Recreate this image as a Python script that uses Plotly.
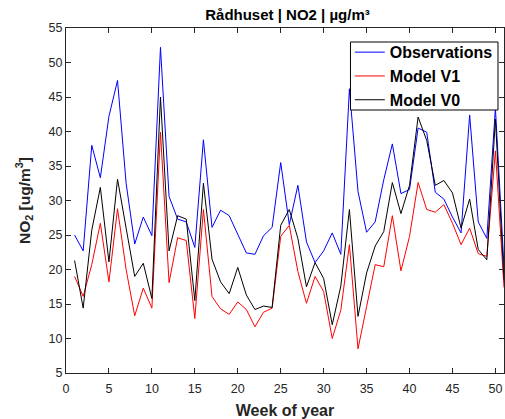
import plotly.graph_objects as go

weeks = list(range(1, 52))

observations = [25.0, 22.7, 38.0, 33.3, 42.2, 47.4, 32.5, 23.7, 27.6, 24.9,
                52.2, 30.6, 27.3, 26.9, 23.2, 38.8, 26.1, 28.6, 27.8, 25.1,
                22.4, 22.2, 24.9, 26.1, 35.5, 26.5, 32.2, 24.0, 21.0, 22.7,
                25.3, 22.2, 46.2, 31.3, 25.4, 26.9, 33.0, 38.2, 31.0, 31.6,
                40.5, 39.9, 31.2, 30.2, 27.6, 25.3, 42.4, 26.9, 24.5, 43.4,
                20.4]

model_v1 = [19.0, 16.1, 20.7, 26.7, 18.2, 28.8, 20.0, 13.3, 17.3, 14.4,
            39.9, 18.1, 24.6, 24.2, 12.9, 28.7, 16.1, 14.3, 13.5, 15.3,
            14.2, 11.7, 13.8, 14.4, 24.8, 26.4, 19.7, 15.1, 19.0, 16.8,
            10.0, 14.1, 23.6, 8.5, 14.6, 20.7, 20.4, 27.8, 19.8, 24.8,
            32.6, 28.7, 28.3, 29.4, 26.7, 23.6, 26.0, 22.3, 21.9, 37.2,
            17.4]

model_v0 = [21.3, 14.4, 25.7, 31.9, 21.1, 33.1, 26.0, 19.0, 20.9, 15.8,
            45.0, 22.7, 27.8, 27.3, 15.5, 32.5, 21.5, 18.2, 16.5, 20.3,
            16.3, 14.2, 14.7, 14.5, 26.4, 28.7, 24.5, 17.5, 21.0, 18.7,
            12.0, 17.6, 28.7, 13.2, 19.5, 23.4, 25.5, 32.6, 28.1, 32.2,
            42.1, 38.7, 32.2, 32.9, 31.1, 26.0, 30.2, 22.9, 21.4, 41.8,
            18.5]

x_ticks = [0, 5, 10, 15, 20, 25, 30, 35, 40, 45, 50]
y_ticks = [5, 10, 15, 20, 25, 30, 35, 40, 45, 50, 55]

FONT = "Liberation Sans, Arial, sans-serif"
AX = "#262626"

fig = go.Figure()
fig.add_trace(go.Scatter(x=weeks, y=observations, mode="lines", name="<b>Observations</b>",
                         line=dict(color="#0000FF", width=1)))
fig.add_trace(go.Scatter(x=weeks, y=model_v1, mode="lines", name="<b>Model V1</b>",
                         line=dict(color="#FF0000", width=1)))
fig.add_trace(go.Scatter(x=weeks, y=model_v0, mode="lines", name="<b>Model V0</b>",
                         line=dict(color="#000000", width=1)))

# legend frame drawn as a box (tighter than plotly's own legend padding)
fig.add_shape(type="rect", xref="paper", yref="paper",
              x0=0.6495, x1=0.9863, y0=0.7623, y1=0.9594,
              line=dict(color="#000000", width=1), fillcolor="white", layer="above")

fig.update_layout(
    width=505, height=419,
    margin=dict(l=66, r=1, t=28, b=46, autoexpand=False),
    paper_bgcolor="white", plot_bgcolor="white",
    font=dict(family=FONT, color=AX, size=12.5),
    title=dict(text="<b>Rådhuset | NO2 | µg/m³</b>", xref="container", x=0.5693,
               xanchor="center", yref="container", y=0.9642, yanchor="middle",
               font=dict(size=15, color="#000000")),
    showlegend=True,
    legend=dict(x=0.648, y=0.979, xanchor="left", yanchor="top",
                bgcolor="rgba(0,0,0,0)", borderwidth=0,
                font=dict(size=16, color="#000000", family=FONT),
                tracegroupgap=0, itemwidth=30),
)

fig.update_xaxes(
    range=[0, 51], tickvals=x_ticks, ticks="inside", ticklen=5, tickcolor=AX,
    showline=True, linecolor=AX, linewidth=1, mirror="ticks", showgrid=False,
    zeroline=False, tickfont=dict(size=12.5, color=AX), automargin=False,
    ticklabelstandoff=4,
    title=dict(text="<b>Week of year</b>", font=dict(size=16, color=AX)),
)
fig.update_yaxes(
    range=[5, 55], tickvals=y_ticks, ticks="inside", ticklen=5, tickcolor=AX,
    showline=True, linecolor=AX, linewidth=1, mirror="ticks", showgrid=False,
    zeroline=False, tickfont=dict(size=12.5, color=AX), automargin=False,
    title=dict(text="<b>NO<sub>2</sub> [ug/m<sup>3</sup>]</b>", font=dict(size=15.5, color=AX),
               standoff=14),
)

# remove the default page margin so the 505x419 figure fills the window exactly
fig.write_html("out.html", config={"displayModeBar": False},
               post_script="document.body.style.margin='0';document.body.style.overflow='hidden';")
